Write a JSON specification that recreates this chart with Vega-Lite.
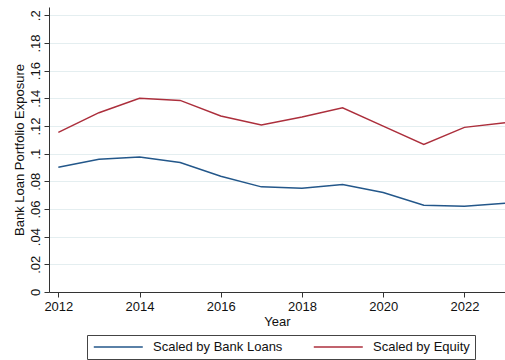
{
  "$schema": "https://vega.github.io/schema/vega-lite/v6.json",
  "width": 456,
  "height": 285,
  "autosize": {"type": "none"},
  "padding": {"left": 49, "top": 7, "right": 0, "bottom": 68},
  "background": "white",
  "config": {
    "view": {"stroke": null},
    "font": "Liberation Sans",
    "axis": {"domainColor": "#333333", "tickColor": "#333333", "labelColor": "#111111", "titleColor": "#111111", "labelFontSize": 13, "titleFontSize": 13, "titleFontWeight": "normal"}
  },
  "data": {
    "values": [
      {"Year": 2012, "series": "Scaled by Bank Loans", "value": 0.0902},
      {"Year": 2013, "series": "Scaled by Bank Loans", "value": 0.0960},
      {"Year": 2014, "series": "Scaled by Bank Loans", "value": 0.0975},
      {"Year": 2015, "series": "Scaled by Bank Loans", "value": 0.0936},
      {"Year": 2016, "series": "Scaled by Bank Loans", "value": 0.0837},
      {"Year": 2017, "series": "Scaled by Bank Loans", "value": 0.0760},
      {"Year": 2018, "series": "Scaled by Bank Loans", "value": 0.0750},
      {"Year": 2019, "series": "Scaled by Bank Loans", "value": 0.0777},
      {"Year": 2020, "series": "Scaled by Bank Loans", "value": 0.0719},
      {"Year": 2021, "series": "Scaled by Bank Loans", "value": 0.0627},
      {"Year": 2022, "series": "Scaled by Bank Loans", "value": 0.0620},
      {"Year": 2023, "series": "Scaled by Bank Loans", "value": 0.0641},
      {"Year": 2012, "series": "Scaled by Equity", "value": 0.1154},
      {"Year": 2013, "series": "Scaled by Equity", "value": 0.1296},
      {"Year": 2014, "series": "Scaled by Equity", "value": 0.1400},
      {"Year": 2015, "series": "Scaled by Equity", "value": 0.1385},
      {"Year": 2016, "series": "Scaled by Equity", "value": 0.1272},
      {"Year": 2017, "series": "Scaled by Equity", "value": 0.1207},
      {"Year": 2018, "series": "Scaled by Equity", "value": 0.1265},
      {"Year": 2019, "series": "Scaled by Equity", "value": 0.1332},
      {"Year": 2020, "series": "Scaled by Equity", "value": 0.1199},
      {"Year": 2021, "series": "Scaled by Equity", "value": 0.1067},
      {"Year": 2022, "series": "Scaled by Equity", "value": 0.1190},
      {"Year": 2023, "series": "Scaled by Equity", "value": 0.1223}
    ]
  },
  "mark": {"type": "line", "strokeWidth": 1.5},
  "encoding": {
    "x": {
      "field": "Year", "type": "quantitative",
      "scale": {"domain": [2011.77, 2023], "nice": false, "zero": false},
      "axis": {"values": [2012, 2014, 2016, 2018, 2020, 2022], "format": "d", "grid": false, "tickSize": 5, "labelPadding": 3, "titlePadding": 2, "title": "Year", "labelFlush": false}
    },
    "y": {
      "field": "value", "type": "quantitative",
      "scale": {"domain": [0, 0.206], "nice": false},
      "axis": {
        "values": [0, 0.02, 0.04, 0.06, 0.08, 0.1, 0.12, 0.14, 0.16, 0.18, 0.2],
        "labelExpr": "datum.value == 0 ? '0' : replace(format(datum.value, '.2~f'), /^0/, '')",
        "labelAngle": -90, "labelAlign": "center", "labelBaseline": "bottom",
        "labelPadding": 2, "tickSize": 5,
        "grid": true, "gridColor": "#e4eef0", "gridWidth": 1,
        "title": "Bank Loan Portfolio Exposure", "titlePadding": 3,
        "labelFlush": false
      }
    },
    "color": {
      "field": "series", "type": "nominal",
      "scale": {"domain": ["Scaled by Bank Loans", "Scaled by Equity"], "range": ["#23578a", "#ac2f3c"]},
      "legend": {
        "title": null, "orient": "none", "direction": "horizontal",
        "legendX": 38, "legendY": 328,
        "symbolType": "M-0.85,0H7.15", "symbolSize": 150, "symbolStrokeWidth": 1.5, "symbolFillColor": "transparent",
        "labelFontSize": 13, "labelColor": "#111111", "labelOffset": 47,
        "columnPadding": 27, "padding": 5, "strokeColor": "#444444",
        "labelLimit": 300
      }
    }
  }
}
